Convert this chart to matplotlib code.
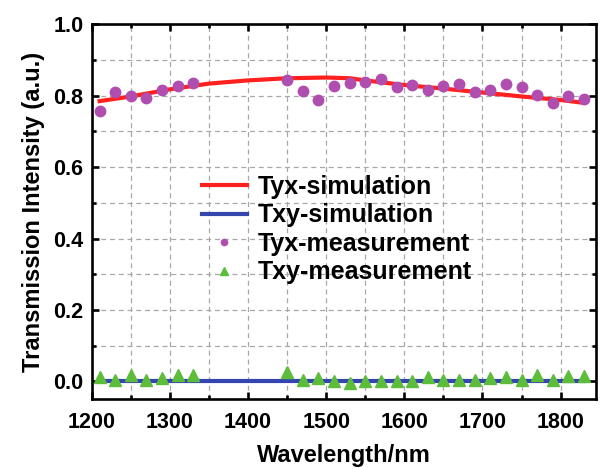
import matplotlib
matplotlib.use("Agg")
import matplotlib.pyplot as plt
from matplotlib.ticker import MultipleLocator, FormatStrFormatter

plt.rcParams['font.family'] = ['Liberation Sans', 'DejaVu Sans']
plt.rcParams['font.weight'] = 'bold'

# Measured wavelengths (nm)
wl_meas = [1210, 1230, 1250, 1270, 1290, 1310, 1330,
           1450, 1470, 1490, 1510, 1530, 1550, 1570, 1590, 1610,
           1630, 1650, 1670, 1690, 1710, 1730, 1750, 1770, 1790, 1810, 1830]
tyx_meas = [0.756, 0.810, 0.800, 0.794, 0.815, 0.826, 0.836,
            0.845, 0.812, 0.788, 0.826, 0.837, 0.839, 0.846, 0.824, 0.831,
            0.817, 0.826, 0.833, 0.810, 0.817, 0.832, 0.824, 0.803, 0.779, 0.800, 0.791]
txy_meas = [0.011, 0.005, 0.017, 0.005, 0.008, 0.019, 0.017,
            0.026, 0.003, 0.008, 0.000, -0.005, 0.000, 0.000, 0.000, 0.000,
            0.011, 0.005, 0.003, 0.003, 0.008, 0.012, 0.003, 0.017, 0.005, 0.016, 0.016]

# Simulated spectra
wl_sim = [1210, 1250, 1300, 1350, 1400, 1450, 1500, 1530, 1550, 1600,
          1650, 1700, 1750, 1800, 1830]
tyx_sim = [0.785, 0.798, 0.818, 0.834, 0.843, 0.849, 0.851, 0.849, 0.843, 0.830,
           0.820, 0.809, 0.798, 0.788, 0.780]
txy_sim = [0.0] * len(wl_sim)

fig = plt.figure(figsize=(6.0, 4.68), dpi=100)
ax = fig.add_axes([0.153, 0.147, 0.840, 0.801])

ax.grid(True, which='both', color='#a8a8a8', linestyle=(0, (4, 3)), linewidth=0.9)
ax.set_axisbelow(True)

ax.plot(wl_sim, tyx_sim, color='#ff2020', linewidth=3.0, label='Tyx-simulation', zorder=3)
ax.plot(wl_sim, txy_sim, color='#3545b0', linewidth=3.0, label='Txy-simulation', zorder=3)
ax.plot(wl_meas, tyx_meas, linestyle='none', marker='o', markersize=7.5,
        color='#b04eb0', label='Tyx-measurement', zorder=4)
ax.plot(wl_meas, txy_meas, linestyle='none', marker='^', markersize=8.5,
        color='#5cbd3a', label='Txy-measurement', zorder=4)

ax.set_xlim(1200, 1845)
ax.set_ylim(-0.05, 1.0)
ax.xaxis.set_major_locator(MultipleLocator(100))
ax.xaxis.set_minor_locator(MultipleLocator(50))
ax.yaxis.set_major_locator(MultipleLocator(0.2))
ax.yaxis.set_minor_locator(MultipleLocator(0.1))
ax.yaxis.set_major_formatter(FormatStrFormatter('%.1f'))

for s in ax.spines.values():
    s.set_linewidth(1.9)
ax.tick_params(which='both', direction='in', top=True, right=True,
               width=1.9, labelsize=15.5)
ax.tick_params(which='major', length=5)
ax.tick_params(which='minor', length=3)
ax.tick_params(axis='x', pad=9)
ax.tick_params(axis='y', pad=6)

ax.set_xlabel('Wavelength/nm', fontsize=17, fontweight='bold', labelpad=8)
ax.set_ylabel('Transmission Intensity (a.u.)', fontsize=17, fontweight='bold', labelpad=6)

leg = ax.legend(loc='upper left', bbox_to_anchor=(0.198, 0.625), frameon=False,
                fontsize=18, handlelength=1.8, handletextpad=0.45,
                labelspacing=0.18, markerscale=0.6, borderaxespad=0)

fig.savefig('out.png', dpi=100)
